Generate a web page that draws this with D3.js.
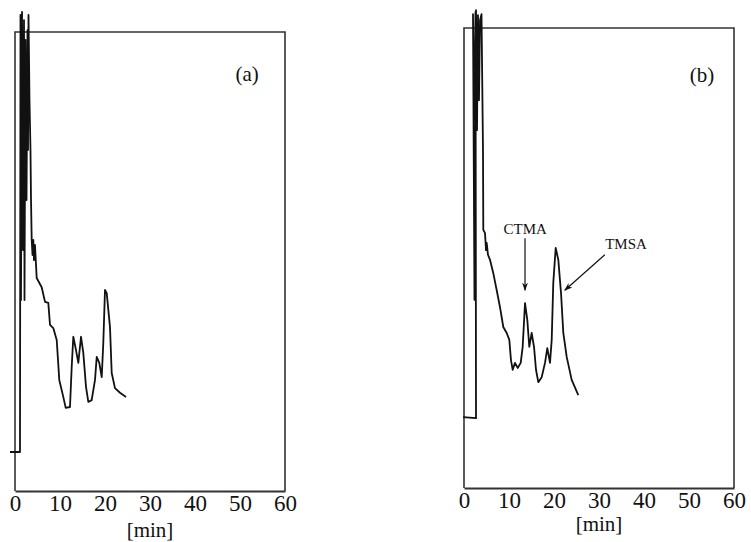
<!DOCTYPE html>
<html><head><meta charset="utf-8">
<script src="https://cdn.jsdelivr.net/npm/d3@7"></script>
<style>
html,body{margin:0;padding:0;background:#fff;}
svg{display:block;}
</style></head>
<body>
<script>
// ---- data ----
const xTicks = [0, 10, 20, 30, 40, 50, 60];
const xUnit = "[min]";
const panelLabels = ["(a)", "(b)"];

const timeA = [-1.11, 1.11, 1.22, 1.33, 1.56, 1.78, 2.0, 2.11, 2.33, 2.56, 2.78, 2.89, 3.0, 3.22, 3.44, 3.56, 3.71, 3.89, 4.07, 4.22, 4.44, 4.82, 5.93, 6.67, 7.40, 7.78, 8.51, 9.27, 9.84, 10.73, 11.27, 12.22, 12.6, 12.96, 13.56, 14.07, 14.67, 15.18, 15.78, 16.29, 17.04, 17.78, 18.16, 18.73, 19.27, 19.62, 20.0, 20.38, 21.11, 21.49, 22.22, 23.33, 24.67];
const signalA = [8.5, 8.5, 103.7, 41.6, 104.4, 52.5, 102.6, 41.6, 98.3, 63.4, 100.4, 74.3, 103.7, 85.2, 74.3, 63.4, 54.7, 51.4, 54.7, 50.3, 53.6, 46.4, 44.4, 41.2, 41.0, 36.2, 35.5, 32.9, 24.2, 20.5, 18.1, 18.3, 27.0, 33.6, 30.7, 27.9, 33.6, 30.1, 22.7, 19.4, 19.8, 24.2, 29.2, 27.9, 24.8, 32.2, 43.8, 43.1, 35.7, 25.7, 22.4, 21.4, 20.5];

const timeB = [-0.22, 2.67, 2.56, 2.22, 2.0, 2.33, 2.67, 2.89, 3.11, 3.33, 3.56, 3.89, 4.22, 4.29, 4.67, 4.89, 5.04, 5.33, 5.78, 6.51, 7.27, 8.0, 8.73, 9.49, 10.07, 10.44, 10.82, 11.33, 11.93, 12.6, 13.04, 13.56, 14.07, 14.51, 15.04, 15.56, 16.0, 16.51, 17.27, 18.0, 18.51, 19.11, 19.49, 19.84, 20.38, 20.96, 21.56, 22.07, 22.82, 23.93, 25.4];
const signalB = [15.4, 15.2, 103.5, 80, 103, 40.9, 103.9, 77.8, 102.8, 84.3, 101.7, 103, 73.5, 56.1, 55.4, 51.7, 53.3, 50.7, 49.6, 46.7, 43.0, 39.3, 35.0, 33.7, 32.2, 27.8, 25.7, 27.2, 26.1, 27.2, 30.7, 40.2, 36.5, 30.7, 33.7, 30.7, 25.7, 23.0, 24.1, 27.2, 30.4, 27.2, 32.2, 44.6, 52.2, 49.6, 42.4, 33.7, 28.5, 23.5, 20.2];

// annotations in panel (b)
const annoNames = ["CTMA", "TMSA"];
const annoLabelT = [13.6, 36.0];
const annoLabelS = [56.0, 52.8];
const annoFromT = [13.56, 31.3];
const annoFromS = [54.3, 50.7];
const annoToT = [13.56, 22.4];
const annoToS = [43.0, 43.0];

// ---- layout ----
const W = 751, H = 542;
const panels = [
  {x0: 15, x1: 285, y0: 32, y1: 491, time: timeA, signal: signalA, label: panelLabels[0], labelT: 51.6, labelS: 90.3, unitY: 537, annos: false},
  {x0: 464, x1: 734, y0: 28, y1: 488, time: timeB, signal: signalB, label: panelLabels[1], labelT: 52.9, labelS: 89.4, unitY: 531, annos: true}
];

const svg = d3.select("body").append("svg").attr("width", W).attr("height", H);
const defs = svg.append("defs");
defs.append("marker").attr("id", "arr").attr("viewBox", "0 0 10 10")
  .attr("refX", 9).attr("refY", 5).attr("markerWidth", 7).attr("markerHeight", 7)
  .attr("orient", "auto-start-reverse")
  .append("path").attr("d", "M0,1.5 L10,5 L0,8.5 L3,5 Z").attr("fill", "#111");

panels.forEach(p => {
  const x = d3.scaleLinear().domain([0, 60]).range([p.x0, p.x1]);
  const y = d3.scaleLinear().domain([0, 100]).range([p.y1, p.y0]);
  const g = svg.append("g");

  // frame (left, top, right)
  g.append("path")
    .attr("d", `M${x(0)},${y(0)} L${x(0)},${y(100)} L${x(60)},${y(100)} L${x(60)},${y(0)}`)
    .attr("fill", "none").attr("stroke", "#333").attr("stroke-width", 1.6);

  // bottom axis
  const ax = g.append("g").attr("transform", `translate(0,${y(0)})`)
    .call(d3.axisBottom(x).tickValues(xTicks).tickSize(0).tickPadding(4).tickFormat(d3.format("d")));
  ax.select(".domain").attr("stroke", "#333").attr("stroke-width", 1.8);
  ax.selectAll("text").attr("font-family", "'Liberation Serif', serif").attr("font-size", 23).attr("fill", "#111");

  g.append("text").attr("x", x(30)).attr("y", p.unitY).attr("text-anchor", "middle")
    .attr("font-family", "'Liberation Serif', serif").attr("font-size", 21).attr("fill", "#111").text(xUnit);

  // trace
  const line = d3.line().x(d => x(d[0])).y(d => y(d[1]));
  const pts = p.time.map((t, i) => [t, p.signal[i]]);
  g.append("path").datum(pts).attr("d", line)
    .attr("fill", "none").attr("stroke", "#111").attr("stroke-width", 1.8).attr("stroke-linejoin", "round");

  // panel label
  g.append("text").attr("x", x(p.labelT)).attr("y", y(p.labelS)).attr("text-anchor", "middle")
    .attr("dominant-baseline", "middle")
    .attr("font-family", "'Liberation Serif', serif").attr("font-size", 21).attr("fill", "#111").text(p.label);

  if (p.annos) {
    annoNames.forEach((n, i) => {
      g.append("text").attr("x", x(annoLabelT[i])).attr("y", y(annoLabelS[i]))
        .attr("text-anchor", "middle").attr("dominant-baseline", "middle")
        .attr("font-family", "'Liberation Serif', serif").attr("font-size", 15).attr("fill", "#111").text(n);
      g.append("line")
        .attr("x1", x(annoFromT[i])).attr("y1", y(annoFromS[i]))
        .attr("x2", x(annoToT[i])).attr("y2", y(annoToS[i]))
        .attr("stroke", "#111").attr("stroke-width", 1.2).attr("marker-end", "url(#arr)");
    });
  }
});
</script>
</body></html>
